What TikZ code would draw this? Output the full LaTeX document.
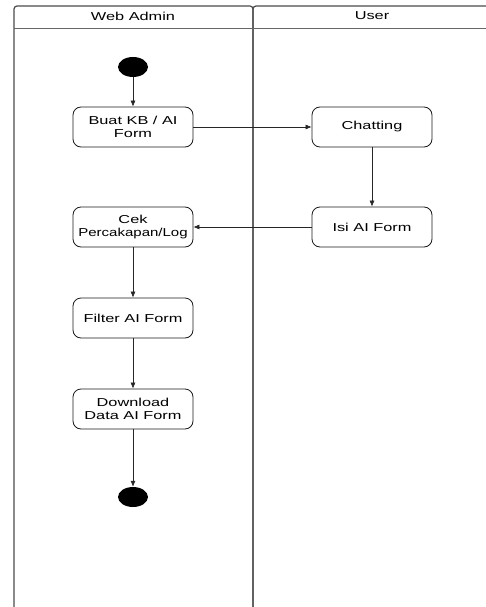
\documentclass[tikz,border=0pt]{standalone}
\usepackage{fontspec}
\setmainfont{Liberation Sans}[FakeStretch=1.42]
\usetikzlibrary{arrows.meta,shapes.geometric}

\begin{document}
\begin{tikzpicture}[x=1pt,y=-1pt,
    act/.style={draw=black!90, line width=0.8pt, rounded corners=8pt, minimum width=120pt,
      minimum height=40pt, align=center, inner xsep=0pt,
      font=\fontsize{11.5}{12.5}\selectfont},
    dot/.style={ellipse, fill=black, minimum width=30pt, minimum height=20pt, inner sep=0pt},
    flow/.style={draw=black!85, line width=0.6pt, -{Latex[length=6pt,width=5pt]}},
    lane/.style={draw=black!70, line width=1.2pt, rounded corners=3pt},
    head/.style={font=\fontsize{11.5}{12}\selectfont}]

  \useasboundingbox (0,0) rectangle (486,607);

  % Swimlanes
  \draw[lane] (14,612) -- (14,6) -- (253,6) -- (253,612);
  \draw[lane] (253,612) -- (253,6) -- (494,6);
  \draw[draw=black!60] (14,28) -- (486,28);
  \node[head] (wa) at (133,16) {Web Admin};
  \node[head] (us) at (372,16) {User};

  % Activities
  \node[dot] (s) at (133,67) {};
  \node[act] (a) at (133,127) {Buat KB / AI\\Form};
  \node[act] (b) at (372,127) {Chatting};
  \node[act] (c) at (372,227) {Isi AI Form};
  \node[act] (d) at (133,227) {Cek\\\scalebox{0.92}[1]{Percakapan/Log}};
  \node[act] (e) at (133,318) {Filter AI Form};
  \node[act] (f) at (133,409) {Download\\Data AI Form};
  \node[dot] (t) at (133,497) {};

  \draw[flow] (s) -- (a);
  \draw[flow] (a) -- (b);
  \draw[flow] (b) -- (c);
  \draw[flow] (c) -- (d);
  \draw[flow] (d) -- (e);
  \draw[flow] (e) -- (f);
  \draw[flow] (f) -- (t);
\end{tikzpicture}
\end{document}
